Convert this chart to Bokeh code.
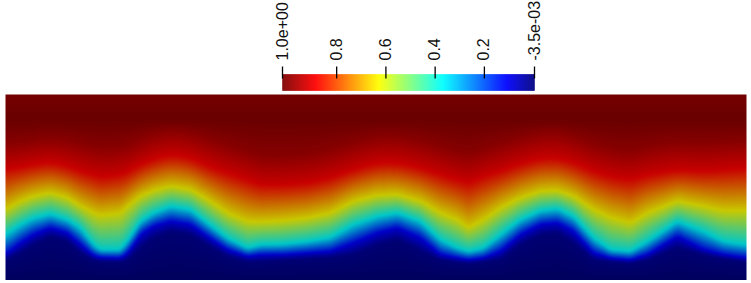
import numpy as np
from bokeh.plotting import figure
from bokeh.models import LinearColorMapper, Range1d
from bokeh.core.properties import value
from bokeh.embed import file_html
from bokeh.resources import INLINE

# Columns (distance along the domain)
column_x = [0,15,28,45,62,75,88,95,115,122,135,148,165,185,202,222,242,255,278,302,325,348,372,392,415,435,452,463,478,495,515,535,552,568,588,605,625,642,672,698,718,741]
# Height of each iso-value along those columns
iso_000 = [20,26.7,35,43.3,38.3,26.7,20,18.3,18.3,20,31.7,41.7,48.3,45,35,23.3,18.3,18.3,20,21,22.3,25,35,40,28.3,20,17.7,16.7,18.3,20,35,45,46.7,36.7,20,18.3,16.7,20,31.7,25,21,18.3]
iso_011 = [25,36.7,45,51.7,46.7,35,24.3,22.3,21.7,26.7,45,53.3,58.3,55,43.3,30,23.3,25,25,26.7,28.3,36.7,46.7,51.7,41.7,25,21.7,20,21.7,28.3,45,55,56.7,48.3,26.7,21.7,20,25,43.3,30,25,21.7]
iso_037 = [45,55,61.7,65.7,60,51.7,35,30,30,38.3,58.3,66.7,73.3,70,56.7,41.7,31.7,35,35.7,38.3,42.3,55,63.3,66.7,58.3,40,31.7,28.3,31.7,45,60,69,71,63.3,41.7,30,28.3,38.3,58.3,48.3,38.3,35]
iso_063 = [70,78.3,83.3,86.7,81.7,73.3,66.7,64.3,66.7,73.3,83.3,89,93.3,90,80,66.7,58.3,57.7,59,61.7,66.7,78.3,84.3,85,78.3,66.7,60,51.7,60,71.7,81.7,88.3,89,83.3,70,62.3,56.7,66.7,78.3,73.3,69,69]
iso_089 = [110,112.3,115,117.7,113.3,108.3,105,102.3,105,106.7,115,120,125,121.7,113.3,106.7,100,95,95,96.7,101.7,110,116.7,116.7,111.7,105,100,96.7,103.3,108.3,115.7,121,121.7,116.7,108.3,103.3,100,105,110,108.3,110,111.7]
iso_098 = [137,138,140,142,140,137,134,132,134,135,142,147,150,148,142,135,129,124,124,126,131,138,144,144,140,134,129,126,132,137,143,148,149,144,137,132,129,134,138,137,138,139]
iso_values = [0.022, 0.109, 0.370, 0.631, 0.887, 0.980]

domain_w, domain_h = 741, 185.5
v_low, v_high = -0.0035, 1.02
ridge_value, ridge_height, top_value = 1.02, 160, 1.0

tick_values = [1.02, 0.8, 0.6, 0.4, 0.2, -0.0035]
tick_labels = ["1.0e+00", "0.8", "0.6", "0.4", "0.2", "-3.5e-03"]

# jet stops for the bar, and the same stops as they look on the lit surface
stops_t = [0, 0.11, 0.365, 0.62, 0.87, 1.0]
stops_rgb = [(0, 0, 128), (0, 0, 255), (0, 255, 255), (255, 255, 0), (255, 0, 0), (128, 0, 0)]
lit_rgb = [(0, 0, 94), (0, 0, 200), (0, 200, 200), (200, 200, 0), (200, 0, 0), (106, 0, 0)]


def palette(n, rgb):
    out = []
    for t in np.linspace(0, 1, n):
        c = [np.interp(t, stops_t, [s[k] for s in rgb]) for k in range(3)]
        out.append("#%02x%02x%02x" % tuple(int(round(a)) for a in c))
    return out


# Raster of the field built from the iso-heights read above
levels = np.array([iso_000, iso_011, iso_037, iso_063, iso_089, iso_098], dtype=float)
nx, ny = int(domain_w), int(round(domain_h))
xs = np.arange(nx) + 0.5
ys = (np.arange(ny) + 0.5) * domain_h / ny
cols = np.array([np.interp(xs, column_x, lv) for lv in levels])
field = np.zeros((ny, nx))
for i in range(nx):
    hh = [0.0] + list(cols[:, i]) + [ridge_height, domain_h]
    vv = [v_low] + iso_values + [ridge_value, top_value]
    field[:, i] = np.interp(ys, hh, vv)


def blur(a, r, axis):
    k = np.ones(2 * r + 1) / (2 * r + 1)
    pad = [(r, r) if d == axis else (0, 0) for d in range(2)]
    b = np.pad(a, pad, mode="edge")
    return np.apply_along_axis(lambda m: np.convolve(m, k, mode="valid"), axis, b)


near = blur(blur(field, 3, 1), 2, 0)
far = blur(blur(blur(field, 8, 1), 8, 1), 3, 0)
w = np.clip((ys - 85) / 30, 0, 1)[:, None]
field = near * (1 - w) + far * w

# Chart window: 751 x 283, chart unit = one pixel
p = figure(width=751, height=283, output_backend="svg", toolbar_location=None,
           x_range=Range1d(-5, 746), y_range=Range1d(-3.5, 279.5),
           min_border=0, background_fill_color="white",
           border_fill_color="white", outline_line_color=None)
p.axis.visible = False
p.grid.visible = False

p.image(image=[field], x=0, y=0, dw=domain_w, dh=domain_h,
        color_mapper=LinearColorMapper(palette=palette(256, lit_rgb), low=v_low, high=v_high))

# Colour bar, on its own value scale
px_per_v = 252 / (v_high - v_low)
p.extra_x_ranges = {"cb": Range1d(v_high + 282 / px_per_v, v_low - (751 - 534) / px_per_v)}

n = 252
edges = np.linspace(v_low, v_high, n + 1)
bar_cols = palette(n, stops_rgb)
p.quad(left=edges[:-1], right=edges[1:], bottom=189.5, top=205.5, fill_color=bar_cols,
       line_color=bar_cols, line_width=0.5, x_range_name="cb")
p.segment(x0=tick_values, x1=tick_values, y0=201.5, y1=213.5, line_color="black",
          line_width=1.3, x_range_name="cb")
p.text(x=tick_values, y=[219.5] * 6, text=tick_labels, angle=np.pi / 2,
       text_align="left", text_baseline="middle", x_offset=-1,
       text_font=value("Liberation Sans"), text_font_size="16px", text_color="#111111",
       x_range_name="cb")

open("out.html", "w").write(file_html(p, INLINE))
